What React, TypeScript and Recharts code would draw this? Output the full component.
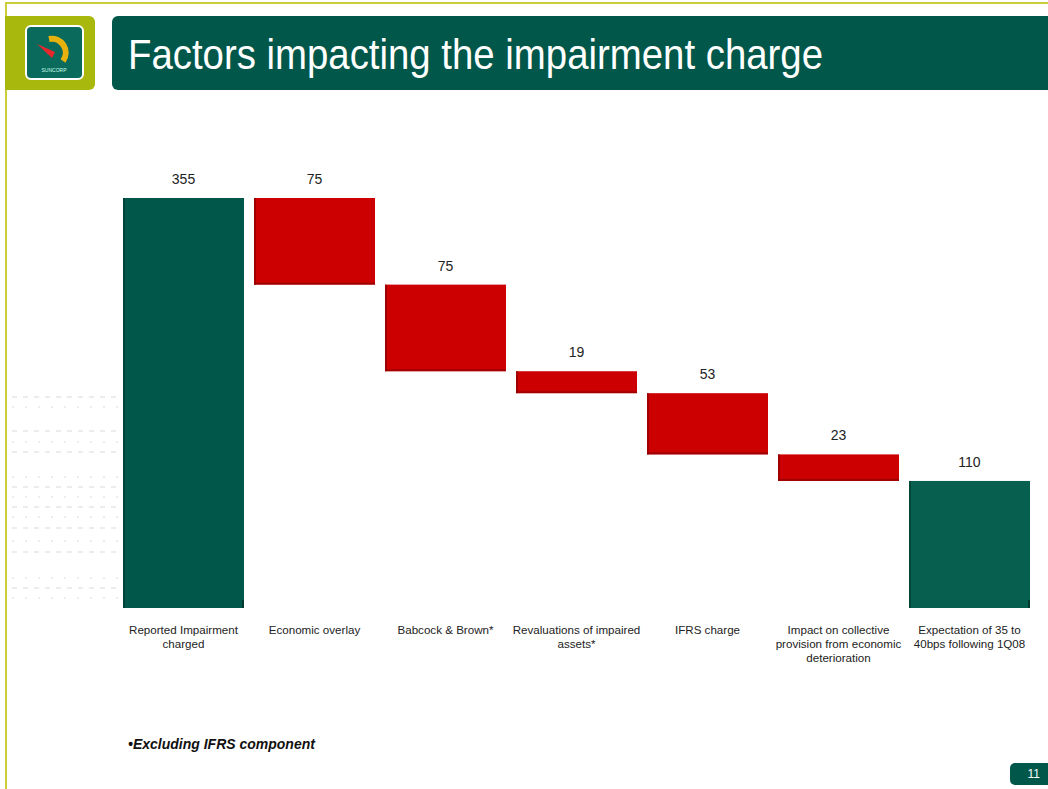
import { BarChart, Bar, XAxis, YAxis, Cell, LabelList } from 'recharts'

const CATEGORIES = [
  'Reported Impairment\ncharged',
  'Economic overlay',
  'Babcock & Brown*',
  'Revaluations of impaired\nassets*',
  'IFRS charge',
  'Impact on collective\nprovision from economic\ndeterioration',
  'Expectation of 35 to\n40bps following 1Q08',
]
const VALUES = [355, 75, 75, 19, 53, 23, 110]
const KINDS = ['total', 'down', 'down', 'down', 'down', 'down', 'total']

const GREEN = '#00574a'
const GREEN_END = '#07604f'
const RED = '#cc0000'

// waterfall: invisible base + visible step
let running = 0
const data = CATEGORIES.map((name, i) => {
  let base = 0
  if (KINDS[i] === 'total') {
    running = VALUES[i]
  } else {
    running -= VALUES[i]
    base = running
  }
  return { name, base, value: VALUES[i], kind: KINDS[i], idx: i }
})

function StepShape(props: any) {
  const { x, y, width, height, payload } = props
  if (!height || height <= 0) return null
  const isRed = payload.kind === 'down'
  const fill = isRed ? RED : payload.idx === 0 ? GREEN : GREEN_END
  const edge = isRed ? '#8f0000' : '#003a30'
  return (
    <g>
      <rect x={x} y={y} width={width} height={height} fill={fill} />
      <rect x={x} y={y} width={2} height={height} fill={edge} opacity={0.7} />
      {isRed && <rect x={x} y={y + height - 2} width={width} height={2} fill={edge} opacity={0.7} />}
      {!isRed && <rect x={x + width - 2} y={y + height - 8} width={2} height={8} fill={edge} />}
    </g>
  )
}

function CategoryTick({ x, y, payload }: any) {
  const lines = String(payload.value).split('\n')
  return (
    <text x={x} y={y} textAnchor="middle" fontSize={11.6} fill="#222" fontFamily="Arial, 'Liberation Sans', sans-serif">
      {lines.map((l, i) => (
        <tspan key={i} x={x} dy={i === 0 ? 18 : 14}>{l}</tspan>
      ))}
    </text>
  )
}

function Dots() {
  const rows = [397, 407, 431, 442, 452, 477, 487, 497, 507, 517, 528, 541, 552, 578, 588, 598]
  return (
    <svg width={120} height={240} style={{ position: 'absolute', left: 0, top: 380 }}>
      {rows.map((r, i) => (
        <line key={i} x1={12} x2={118} y1={r - 380} y2={r - 380}
          stroke="#e6e6e6" strokeWidth={1.5} strokeDasharray={i % 2 ? '2 11' : '5 6'} />
      ))}
    </svg>
  )
}

export default function App() {
  return (
    <div style={{ position: 'absolute', left: 0, top: 0, width: 1048, height: 789, background: '#fff', overflow: 'hidden', fontFamily: 'Arial, "Liberation Sans", sans-serif' }}>
      {/* frame lines */}
      <div style={{ position: 'absolute', left: 5, top: 2, width: 1043, height: 2, background: '#cdcd3a' }} />
      <div style={{ position: 'absolute', left: 5, top: 2, width: 2, height: 787, background: '#cdcd3a' }} />

      {/* logo block */}
      <div style={{ position: 'absolute', left: 5, top: 16, width: 90, height: 74, background: '#a8b80c', borderRadius: '0 6px 6px 0' }} />
      <svg width={60} height={56} style={{ position: 'absolute', left: 25, top: 25 }}>
        <rect x={1} y={1} width={57} height={53} rx={5} fill="#0a6a5c" stroke="#fff" strokeWidth={2} />
        <path d="M 24 14 A 14 14 0 0 1 38 36" fill="none" stroke="#e8b20e" strokeWidth={6} />
        <path d="M 12 19 L 30 27 L 27 33 Z" fill="#e8262b" />
        <text x={29} y={47} textAnchor="middle" fontSize={5} fill="#cfe" >SUNCORP</text>
      </svg>

      {/* title bar */}
      <div style={{ position: 'absolute', left: 112, top: 16, width: 936, height: 74, background: GREEN, borderRadius: '6px 0 0 6px' }} />
      <svg width={936} height={74} style={{ position: 'absolute', left: 112, top: 16 }}>
        <text x={16} y={53} fontSize={42} fill="#fff" textLength={695} lengthAdjust="spacingAndGlyphs"
          fontFamily="Arial, 'Liberation Sans', sans-serif">Factors impacting the impairment charge</text>
      </svg>

      <Dots />

      <div style={{ position: 'absolute', left: 0, top: 0 }}>
        <BarChart width={1048} height={789} data={data}
          margin={{ top: 198, left: 118, right: 13, bottom: 151 }} barSize={121}>
          <YAxis hide domain={[0, 355]} />
          <XAxis dataKey="name" height={30} axisLine={false} tickLine={false} interval={0} tick={<CategoryTick />} />
          <Bar dataKey="base" stackId="a" fill="transparent" isAnimationActive={false} />
          <Bar dataKey="value" stackId="a" shape={<StepShape />} isAnimationActive={false}>
            {data.map((d, i) => <Cell key={i} fill={d.kind === 'down' ? RED : GREEN} />)}
            <LabelList dataKey="value" position="top" offset={14} fontSize={14} fill="#222" />
          </Bar>
        </BarChart>
      </div>

      {/* footnote */}
      <div style={{ position: 'absolute', left: 128, top: 736, fontSize: 14, fontWeight: 'bold', fontStyle: 'italic', color: '#111' }}>
        •Excluding IFRS component
      </div>

      {/* page number */}
      <div style={{ position: 'absolute', left: 1010, top: 763, width: 38, height: 22, background: GREEN, borderRadius: '5px 0 0 5px', color: '#fff', fontSize: 12, lineHeight: '22px', textAlign: 'right', paddingRight: 8, boxSizing: 'border-box' }}>
        11
      </div>
    </div>
  )
}
